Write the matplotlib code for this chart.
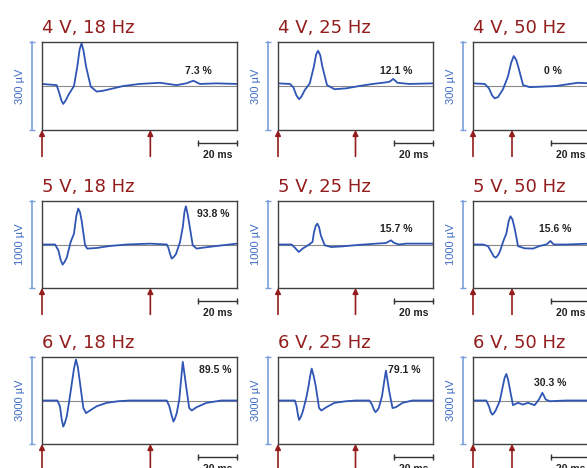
import matplotlib.pyplot as plt
from matplotlib.transforms import ScaledTranslation

# panel labels
volts = ['4 V', '5 V', '6 V']
freqs = [18, 25, 50]
amp_labels = ['300 µV', '1000 µV', '3000 µV']
amp_range = [300, 1000, 3000]      # full height of each row, µV
window_ms = [100, 80, 60]          # time shown in each column

percent = [['7.3 %', '12.1 %', '0 %'],
           ['93.8 %', '15.7 %', '15.6 %'],
           ['89.5 %', '79.1 %', '30.3 %']]
# (ms, µV) of the percent labels
percent_pos = [[(80, 52), (61, 51), (41, 51)],
               [(88, 355), (60.8, 182), (42, 182)],
               [(88.7, 1060), (65, 1060), (39.5, 600)]]

# traces: time in ms, amplitude in µV
t_4v_18 = [0, 7.5, 8.9, 10.0, 10.9, 11.9, 13.5, 16.4, 18.1, 19.3, 20.3, 21.3, 22.6, 25, 28, 31.5,
           36.6, 41.7, 50, 60.5, 69, 74, 77.6, 81, 89.6, 100]
v_4v_18 = [7, 3, -25, -50, -61, -52, -31, 0, 66, 125, 146, 120, 66, -2, -19, -16,
           -8, 0, 7, 11, 3, 9, 18, 7, 9, 7]
t_4v_25 = [0, 6.2, 7.9, 9.5, 10.9, 12.2, 13.8, 16.4, 18.5, 19.7, 20.7, 21.8, 22.9, 25.3, 29.2,
           35.2, 42, 48.9, 54, 57.4, 59.5, 61.7, 67.7, 80]
v_4v_25 = [9, 7, -4, -32, -45, -35, -14, 9, 66, 108, 120, 105, 66, 3, -11,
           -8, 0, 7, 11, 14, 24, 11, 7, 9]
t_4v_50 = [0, 6, 8.2, 9.8, 11.1, 12.8, 15.4, 17.9, 19.6, 20.9, 22.1, 23.2, 25.7, 29.1, 35.9,
           42.7, 49.6, 53.8, 60]
v_4v_50 = [9, 7, -8, -32, -42, -38, -11, 32, 80, 102, 90, 66, 3, -4, -2,
           0, 7, 11, 9]

t_5v_18 = [0, 6.7, 8.4, 9.6, 10.6, 11.6, 12.7, 14.7, 16.4, 17.6, 18.6, 19.5, 20.3, 22.1, 23.2,
           28, 34.9, 43.4, 55.4, 64, 64.8, 65.7, 66.5, 67.5, 68.7, 70.8, 72.2, 73.1, 73.8, 74.6,
           75.5, 77.3, 79.3, 82.7, 89.6, 100]
v_5v_18 = [0, 0, -67, -180, -231, -200, -151, 29, 125, 330, 413, 370, 278, -9, -47,
           -40, -17, 0, 10, 0, -38, -110, -162, -145, -110, 29, 201, 380, 439, 360,
           240, -9, -47, -36, -17, 10]
t_5v_25 = [0, 7, 8.7, 10.7, 12.9, 15.5, 17.8, 18.6, 19.5, 20.3, 21.2, 22.1, 24.1, 27.5, 33.5,
           42, 50.6, 55.7, 57.2, 58.3, 59.3, 60, 62.6, 66, 80]
v_5v_25 = [0, 0, -36, -86, -44, -9, 29, 144, 215, 240, 200, 105, -9, -29, -21,
           -4, 10, 17, 35, 48, 30, 17, 0, 10, 10]
t_5v_50 = [0, 5.1, 7.7, 9.4, 10.6, 11.6, 12.6, 13.7, 15.7, 17.1, 18.3, 19.2, 20.2, 21.4, 23.1,
           26.5, 30.8, 34.2, 37.6, 39.7, 41.4, 47.9, 60]
v_5v_50 = [0, 0, -19, -86, -135, -151, -130, -86, 48, 125, 270, 324, 290, 182, -19,
           -44, -47, -17, 0, 40, 0, 0, 10]

t_6v_18 = [0, 7.9, 9.2, 10.1, 10.9, 11.7, 12.7, 14, 15.2, 16.4, 17.4, 18.4, 19.5, 21.2, 22.6,
           24.6, 28, 33.2, 39.1, 45.1, 64, 65.3, 66.4, 67.4, 68.2, 69.1, 70.4, 71.3, 72.2, 73,
           73.8, 75.5, 76.8, 79.3, 84.4, 92.1, 100]
v_6v_18 = [0, 0, -200, -650, -900, -780, -550, 0, 545, 1100, 1410, 1150, 600, -260, -435,
           -345, -200, -80, -25, 0, 0, -200, -500, -725, -620, -435, 35, 700, 1330, 950,
           545, -260, -345, -230, -80, 0, 0]
t_6v_25 = [0, 8.7, 9.6, 10.3, 10.9, 11.7, 12.7, 14.4, 15.6, 16.6, 17.4, 18.4, 19.5, 21.2, 22.4,
           25, 29.2, 35.2, 40.3, 47.2, 48.5, 49.4, 50.3, 51.1, 52, 53.7, 54.8, 55.7, 56.5, 57.4,
           59.1, 60.9, 64.3, 69.4, 80]
v_6v_25 = [0, 0, -200, -500, -670, -580, -400, 35, 430, 850, 1100, 850, 490, -260, -345,
           -230, -80, -25, 0, 0, -140, -300, -400, -350, -260, 150, 650, 1030, 700, 320,
           -260, -230, -80, 0, 0]
t_6v_50 = [0, 6.8, 8.2, 9.1, 9.9, 10.7, 11.6, 13.7, 15.1, 16.2, 17.1, 18, 18.8, 20.5, 23.1,
           25.6, 28.2, 31.6, 33.8, 35.6, 37.3, 39.3, 47.9, 60]
v_6v_50 = [0, 0, -200, -400, -490, -440, -345, -25, 430, 780, 915, 720, 430, -160, -80,
           -140, -80, -160, 35, 265, 35, -25, 0, 0]

traces = [[(t_4v_18, v_4v_18), (t_4v_25, v_4v_25), (t_4v_50, v_4v_50)],
          [(t_5v_18, v_5v_18), (t_5v_25, v_5v_25), (t_5v_50, v_5v_50)],
          [(t_6v_18, v_6v_18), (t_6v_25, v_6v_25), (t_6v_50, v_6v_50)]]

# layout in pixels (figure is 587 x 468 at 100 dpi)
W, H = 587, 468
col_left = [42, 278, 473]
col_width = [195, 155, 117]
row_top = [42, 201, 357]
row_bottom = [130, 288, 444]

trace_color = '#2f55b5'
bar_color = '#7a9fdc'
label_color = '#3d6cc4'
red = '#931c1c'

fig = plt.figure(figsize=(W / 100, H / 100), dpi=100)


def px(dx, dy):
    return ScaledTranslation(dx / 100, dy / 100, fig.dpi_scale_trans)


for r in range(3):
    for c in range(3):
        left = col_left[c] / W
        bottom = 1 - row_bottom[r] / H
        ax = fig.add_axes([left, bottom, col_width[c] / W, (row_bottom[r] - row_top[r]) / H])
        dur = window_ms[c]
        half = amp_range[r] / 2
        ax.set_xlim(0, dur)
        ax.set_ylim(-half, half)
        ax.set_xticks([])
        ax.set_yticks([])
        for s in ax.spines.values():
            s.set_color('#404040')
            s.set_linewidth(1.0)

        ax.axhline(0, color='#8a8a8a', lw=0.8, zorder=1)
        t, v = traces[r][c]
        ax.plot(t, v, color=trace_color, lw=1.3, zorder=2)

        txt, (tx, ty) = percent[r][c], percent_pos[r][c]
        ax.text(tx, ty, txt, ha='center', va='center', fontsize=7.5,
                fontweight='bold', family='Liberation Sans', color='#222222')

        ax.text(0, 1, f'{volts[r]}, {freqs[c]} Hz', transform=ax.transAxes + px(0, 9),
                ha='left', va='baseline', fontsize=13, color=red)

        # amplitude scale bar
        ax.plot([0, 0], [0, 1], transform=ax.transAxes + px(-10, 0), color=bar_color,
                lw=1.2, marker='_', ms=5, clip_on=False)
        ax.text(0, 0.5, amp_labels[r], transform=ax.transAxes + px(-22, 0), rotation=90,
                ha='center', va='center', fontsize=8, family='Liberation Sans',
                color=label_color)

        # stimulus arrows
        for ts in [0, 1000 / freqs[c]]:
            ax.annotate('', xy=(ts, 0), xycoords=('data', 'axes fraction'),
                        xytext=(0, -19), textcoords='offset points',
                        arrowprops=dict(arrowstyle='-|>', color=red, lw=1.2,
                                        mutation_scale=8, shrinkA=0, shrinkB=0),
                        annotation_clip=False)

        # time scale bar
        xt = ax.get_xaxis_transform()
        ax.plot([dur - 20, dur], [0, 0], transform=xt + px(0, -13), color='#333333',
                lw=1.0, marker='|', ms=5, clip_on=False)
        ax.text(dur - 10, 0, '20 ms', transform=xt + px(0, -25), ha='center', va='center',
                fontsize=7.5, fontweight='bold', family='Liberation Sans', color='#222222')

fig.savefig('out.png', dpi=100)
